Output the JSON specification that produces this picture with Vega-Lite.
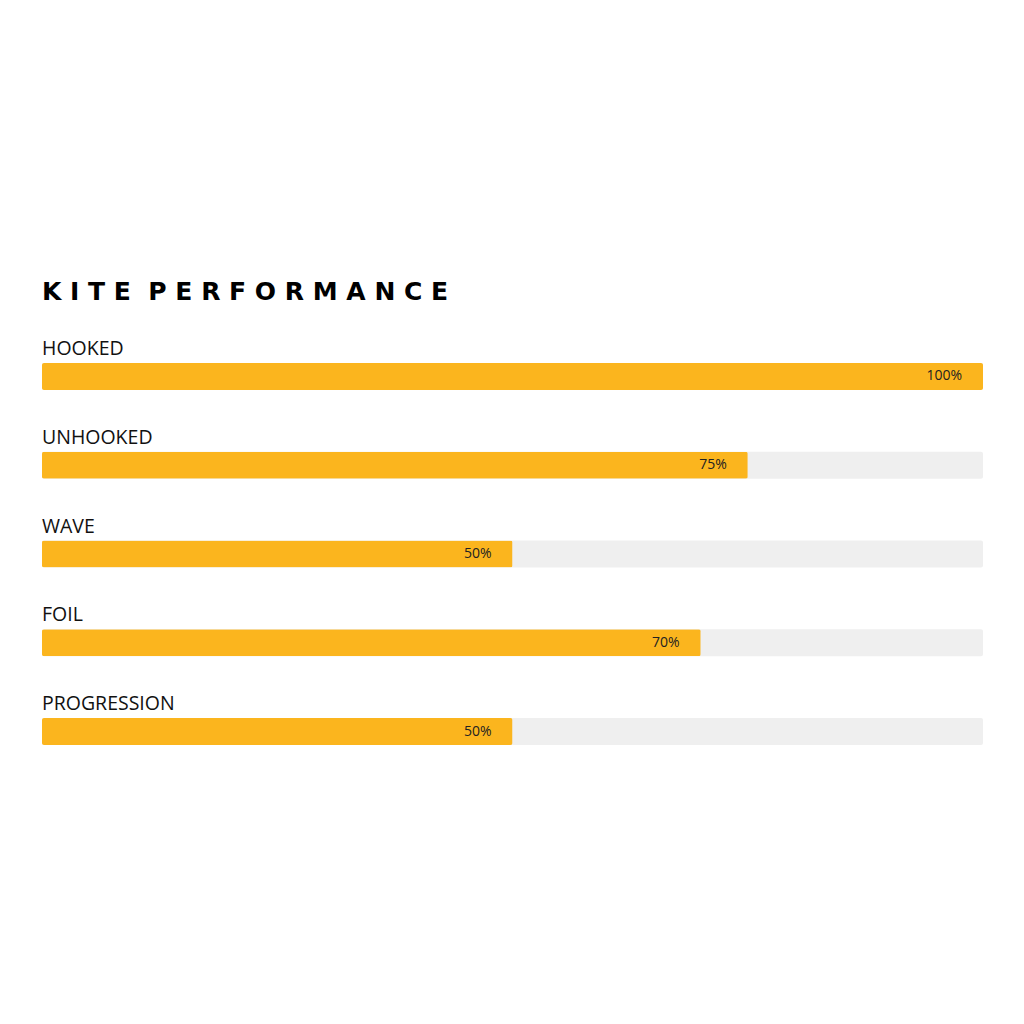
{
  "$schema": "https://vega.github.io/schema/vega-lite/v6.json",
  "width": 941,
  "height": 382,
  "autosize": {"type": "none"},
  "padding": {"left": 42, "top": 363, "right": 41, "bottom": 279},
  "background": "white",
  "view": {"stroke": null},
  "title": {
    "text": "K I T E\u00a0 P E R F O R M A N C E",
    "anchor": "start",
    "frame": "group",
    "font": "DejaVu Sans",
    "fontSize": 25,
    "fontWeight": "bold",
    "color": "#000000",
    "baseline": "alphabetic",
    "offset": 14
  },
  "data": {
    "values": [
      {"skill": "HOOKED", "score": 1.0},
      {"skill": "UNHOOKED", "score": 0.75},
      {"skill": "WAVE", "score": 0.5},
      {"skill": "FOIL", "score": 0.7},
      {"skill": "PROGRESSION", "score": 0.5}
    ]
  },
  "encoding": {
    "y": {
      "field": "skill",
      "type": "nominal",
      "sort": null,
      "axis": null,
      "scale": {"paddingInner": 0.6958, "paddingOuter": 0}
    }
  },
  "layer": [
    {
      "mark": {"type": "bar", "color": "#efefef", "cornerRadius": 2},
      "encoding": {
        "x": {"datum": 1, "type": "quantitative", "scale": {"domain": [0, 1], "nice": false}, "axis": null}
      }
    },
    {
      "mark": {"type": "bar", "color": "#fbb51e", "cornerRadius": 2},
      "encoding": {
        "x": {"field": "score", "type": "quantitative"}
      }
    },
    {
      "mark": {"type": "text", "align": "right", "baseline": "middle", "dx": -21, "font": "Open Sans", "fontSize": 14, "color": "#222222"},
      "encoding": {
        "x": {"field": "score", "type": "quantitative"},
        "text": {"field": "score", "type": "quantitative", "format": ".0%"}
      }
    },
    {
      "mark": {"type": "text", "align": "left", "baseline": "alphabetic", "dy": -8, "font": "Open Sans", "fontSize": 19.5, "color": "#111111"},
      "encoding": {
        "x": {"datum": 0, "type": "quantitative"},
        "y": {"field": "skill", "type": "nominal", "sort": null, "bandPosition": 0},
        "text": {"field": "skill"}
      }
    }
  ]
}
